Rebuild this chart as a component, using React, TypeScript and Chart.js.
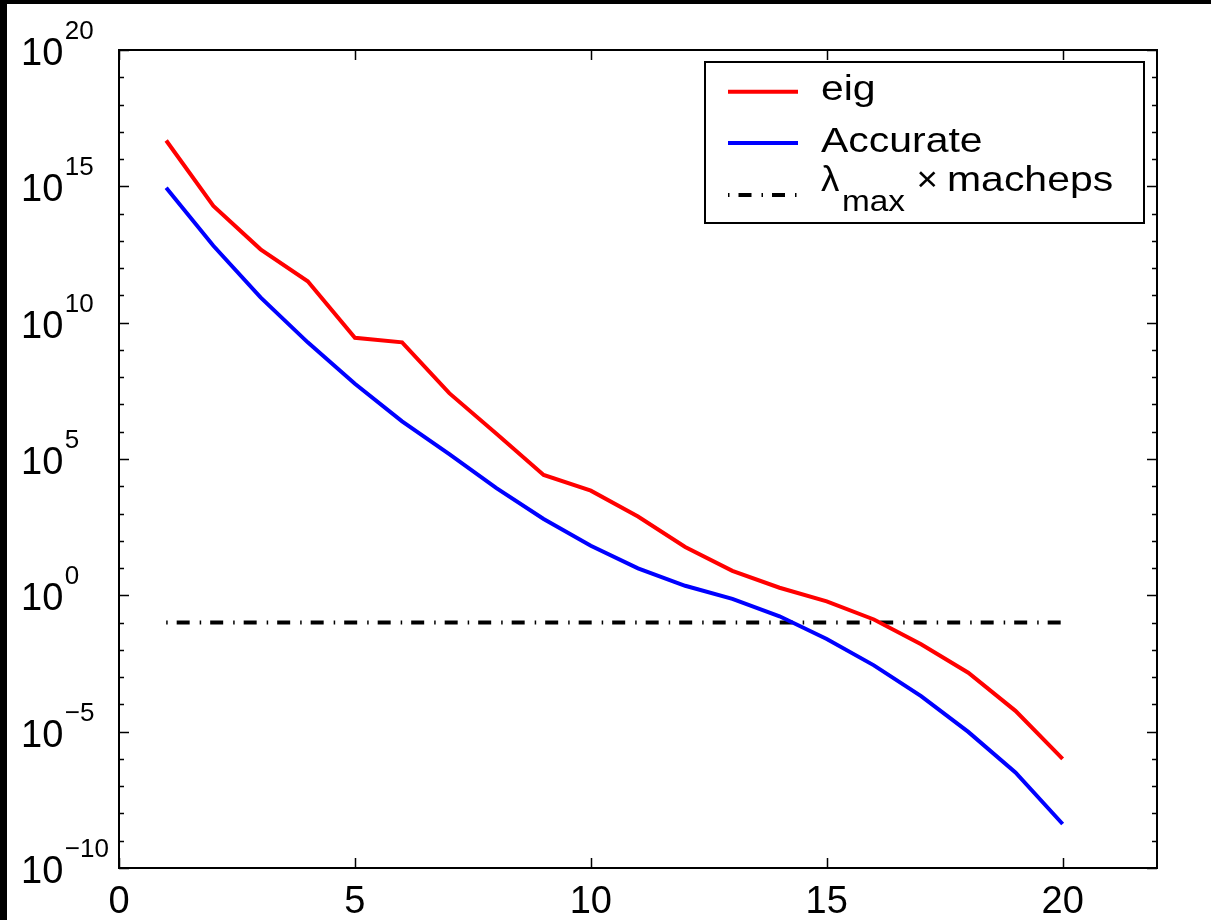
import { useEffect, useRef } from "react";
import { Chart, registerables } from "chart.js";

Chart.register(...registerables);

// ---- data ----
const xValues = [1, 2, 3, 4, 5, 6, 7, 8, 9, 10, 11, 12, 13, 14, 15, 16, 17, 18, 19, 20];
const eigValues = [
  4.8e16, 1.9e14, 4.9e12, 3.3e11, 2.8e9, 1.9e9, 2.6e7, 8.5e5, 2.6e4, 6.9e3,
  780, 59, 7.9, 1.9, 0.6, 0.13, 0.016, 1.45e-3, 5.8e-5, 1.0e-6,
];
const accurateValues = [
  8.9e14, 6.6e12, 8.5e10, 1.9e9, 5.75e7, 2.4e6, 1.5e5, 8.5e3, 630, 66,
  9.8, 2.24, 0.74, 0.17, 0.025, 2.7e-3, 2.0e-4, 9.8e-6, 3.2e-7, 4.1e-9,
];
const machepsX = [1, 20];
const machepsValues = [0.1, 0.1];

// ---- ticks / labels ----
const xTickValues = [0, 5, 10, 15, 20];
const xTickLabels = ["0", "5", "10", "15", "20"];
const yTickExponents = [20, 15, 10, 5, 0, -5, -10];
const yTickExpLabels = ["20", "15", "10", "5", "0", "\u22125", "\u221210"];
const yMinorExponents = [
  -10, -9, -8, -7, -6, -5, -4, -3, -2, -1, 0, 1, 2, 3, 4, 5, 6, 7, 8, 9, 10,
  11, 12, 13, 14, 15, 16, 17, 18, 19, 20,
];
const seriesLabels = ["eig", "Accurate"];
const machepsLabelParts = ["\u03BB", "max", "\u00D7", "macheps"];

const FONT = '"Liberation Sans", Arial, Helvetica, sans-serif';

function stretchedText(
  ctx: CanvasRenderingContext2D,
  text: string,
  x: number,
  y: number,
  size: number,
  sx: number
) {
  ctx.save();
  ctx.translate(x, y);
  ctx.scale(sx, 1);
  ctx.font = `${size}px ${FONT}`;
  ctx.textAlign = "left";
  ctx.textBaseline = "alphabetic";
  ctx.fillText(text, 0, 0);
  ctx.restore();
}

const axesPlugin = {
  id: "matlabAxes",
  afterDatasetsDraw(chart: any) {
    const { ctx, chartArea: a, scales } = chart;
    const xs = scales.x;
    const ys = scales.y;
    ctx.save();
    ctx.strokeStyle = "#000";
    ctx.fillStyle = "#000";

    // y ticks (left and right, inward)
    ctx.lineWidth = 1.5;
    ctx.beginPath();
    yMinorExponents.forEach((e) => {
      const py = Math.round(ys.getPixelForValue(Math.pow(10, e))) + 0.5;
      const len = e % 5 === 0 ? 10 : 5;
      ctx.moveTo(a.left, py);
      ctx.lineTo(a.left + len, py);
      ctx.moveTo(a.right, py);
      ctx.lineTo(a.right - len, py);
    });
    // x ticks (bottom and top, inward)
    xTickValues.forEach((v) => {
      const px = Math.round(xs.getPixelForValue(v)) + 0.5;
      ctx.moveTo(px, a.bottom);
      ctx.lineTo(px, a.bottom - 10);
      ctx.moveTo(px, a.top);
      ctx.lineTo(px, a.top + 10);
    });
    ctx.stroke();

    // frame
    ctx.lineWidth = 2;
    ctx.strokeRect(a.left, a.top, a.right - a.left, a.bottom - a.top);

    // x tick labels
    ctx.font = `38px ${FONT}`;
    ctx.textAlign = "center";
    ctx.textBaseline = "alphabetic";
    xTickValues.forEach((v, i) => {
      ctx.fillText(xTickLabels[i], xs.getPixelForValue(v), a.bottom + 45);
    });

    // y tick labels: 10^e
    yTickExponents.forEach((e, i) => {
      const py = ys.getPixelForValue(Math.pow(10, e));
      ctx.font = `38px ${FONT}`;
      ctx.textAlign = "left";
      ctx.fillText("10", 14, py + 15);
      const w = ctx.measureText("10").width;
      ctx.font = `26px ${FONT}`;
      ctx.fillText(yTickExpLabels[i], 14 + w + 1.5, py - 11);
    });

    // legend box
    const lx = 698;
    const ly = 58;
    const lw = 439;
    const lh = 161;
    ctx.fillStyle = "#fff";
    ctx.fillRect(lx, ly, lw, lh);
    ctx.lineWidth = 2;
    ctx.strokeStyle = "#000";
    ctx.strokeRect(lx, ly, lw, lh);

    const sx0 = 721;
    const sx1 = 791;
    const rows = [87.7, 139, 191];
    ctx.lineWidth = 4;
    ctx.lineCap = "butt";
    ctx.strokeStyle = "#ff0000";
    ctx.beginPath();
    ctx.moveTo(sx0, rows[0]);
    ctx.lineTo(sx1, rows[0]);
    ctx.stroke();
    ctx.strokeStyle = "#0000ff";
    ctx.beginPath();
    ctx.moveTo(sx0, rows[1]);
    ctx.lineTo(sx1, rows[1]);
    ctx.stroke();
    ctx.strokeStyle = "#000";
    ctx.setLineDash([1.5, 9, 13, 10]);
    ctx.beginPath();
    ctx.moveTo(sx0, rows[2]);
    ctx.lineTo(sx1 + 1, rows[2]);
    ctx.stroke();
    ctx.setLineDash([]);

    ctx.fillStyle = "#000";
    const sx = 1.17;
    stretchedText(ctx, seriesLabels[0], 814, 96, 35, sx);
    stretchedText(ctx, seriesLabels[1], 814, 147.6, 35, sx);
    stretchedText(ctx, machepsLabelParts[0], 814, 186.5, 35, 1.05);
    stretchedText(ctx, machepsLabelParts[1], 835, 206.7, 29, 1.15);
    stretchedText(ctx, machepsLabelParts[2], 909.5, 186.5, 35, 1.05);
    stretchedText(ctx, machepsLabelParts[3], 940, 186.5, 35, sx);

    ctx.restore();
  },
};

export default function App() {
  const ref = useRef<HTMLCanvasElement>(null);
  useEffect(() => {
    const canvas = ref.current;
    if (!canvas) return;
    const chart = new Chart(canvas, {
      type: "line",
      data: {
        datasets: [
          {
            label: seriesLabels[0],
            data: xValues.map((x, i) => ({ x, y: eigValues[i] })),
            borderColor: "#ff0000",
            backgroundColor: "#ff0000",
            borderWidth: 4,
            pointRadius: 0,
            tension: 0,
            fill: false,
          },
          {
            label: seriesLabels[1],
            data: xValues.map((x, i) => ({ x, y: accurateValues[i] })),
            borderColor: "#0000ff",
            backgroundColor: "#0000ff",
            borderWidth: 4,
            pointRadius: 0,
            tension: 0,
            fill: false,
          },
          {
            label: "lambda_max x macheps",
            data: machepsX.map((x, i) => ({ x, y: machepsValues[i] })),
            borderColor: "#000",
            backgroundColor: "#000",
            borderWidth: 4,
            borderDash: [1.5, 9, 13, 10],
            borderCapStyle: "butt",
            pointRadius: 0,
            tension: 0,
            fill: false,
          },
        ],
      },
      options: {
        responsive: false,
        maintainAspectRatio: false,
        animation: false,
        layout: { padding: { left: 112, top: 46, right: 54, bottom: 52 } },
        plugins: {
          legend: { display: false },
          tooltip: { enabled: false },
        },
        scales: {
          x: { type: "linear", min: 0, max: 22, display: false },
          y: { type: "logarithmic", min: 1e-10, max: 1e20, display: false },
        },
      },
      plugins: [axesPlugin],
    } as any);
    return () => chart.destroy();
  }, []);

  return (
    <div
      style={{
        position: "fixed",
        left: 0,
        top: 0,
        width: 1211,
        height: 920,
        background: "#000",
        overflow: "hidden",
      }}
    >
      <canvas
        ref={ref}
        width={1204}
        height={916}
        style={{
          position: "absolute",
          left: 7,
          top: 4,
          width: 1204,
          height: 916,
          background: "#fff",
          display: "block",
        }}
      />
    </div>
  );
}
